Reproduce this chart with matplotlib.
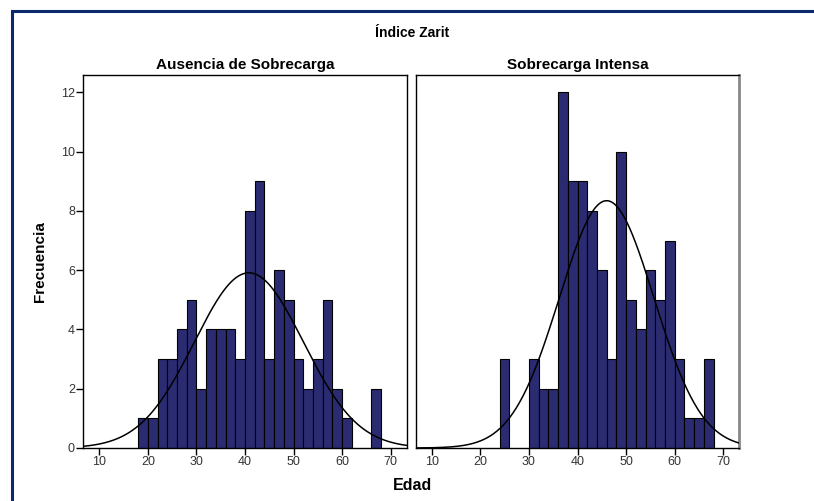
import numpy as np
import matplotlib
matplotlib.use("Agg")
import matplotlib.pyplot as plt
from matplotlib.patches import Rectangle

plt.rcParams['font.family'] = ['Liberation Sans Narrow', 'Liberation Sans', 'DejaVu Sans']

# Age histogram data (bin width 2 years)
bin_width = 2
left_start = 18
left_counts = [1, 1, 3, 3, 4, 5, 2, 4, 4, 4, 3, 8, 9, 3, 6, 5, 3, 2, 3, 5, 2, 1, 0, 0, 2]
right_start = 24
right_counts = [3, 0, 0, 3, 2, 2, 12, 9, 9, 8, 6, 3, 10, 5, 4, 6, 5, 7, 3, 1, 1, 3]

# normal curve parameters (mean, sd)
left_mean, left_sd = 40.8, 11.2
right_mean, right_sd = 46.0, 9.75

panel_titles = ["Ausencia de Sobrecarga", "Sobrecarga Intensa"]
x_ticks = [10, 20, 30, 40, 50, 60, 70]
y_ticks = [0, 2, 4, 6, 8, 10, 12]

bar_color = "#2B2B72"
tick_color = "#333333"

fig = plt.figure(figsize=(8.14, 5.01), dpi=100)

# dark blue frame around the figure
fig.patches.append(Rectangle((12 / 814, -0.1), 1.2, 1.1 - 11 / 501,
                             transform=fig.transFigure, fill=False,
                             edgecolor="#0B2A6E", linewidth=2.2))

ax1 = fig.add_axes([83.3 / 814, 1 - 448 / 501, 323.4 / 814, 373.3 / 501])
ax2 = fig.add_axes([415.7 / 814, 1 - 448 / 501, 323.6 / 814, 373.3 / 501])

panels = [
    (ax1, left_start, left_counts, left_mean, left_sd),
    (ax2, right_start, right_counts, right_mean, right_sd),
]

for i, (ax, start, counts, mu, sd) in enumerate(panels):
    counts = np.array(counts)
    edges = start + bin_width * np.arange(len(counts))
    mask = counts > 0
    ax.bar(edges[mask], counts[mask], width=bin_width, align='edge',
           color=bar_color, edgecolor="black", linewidth=0.8, zorder=2)

    ax.set_xlim(6.7, 73.3)
    ax.set_ylim(0, 12.6)
    xs = np.linspace(6.7, 73.3, 400)
    n = counts.sum()
    ys = n * bin_width * np.exp(-0.5 * ((xs - mu) / sd) ** 2) / (sd * np.sqrt(2 * np.pi))
    ax.plot(xs, ys, color="black", linewidth=1.1, zorder=3)

    ax.set_xticks(x_ticks)
    ax.tick_params(axis='x', direction='out', length=5, width=1, colors='black',
                   labelcolor=tick_color, labelsize=9, pad=1)
    ax.set_title(panel_titles[i], fontsize=11, fontweight='bold', pad=4)
    for sp in ax.spines.values():
        sp.set_linewidth(1)
        sp.set_color("black")

ax1.set_yticks(y_ticks)
ax1.tick_params(axis='y', direction='out', length=5, width=1,
                labelcolor=tick_color, labelsize=9, pad=1)
ax1.set_ylabel("Frecuencia", fontsize=11, fontweight='bold', labelpad=10)
ax2.set_yticks([])
ax2.spines['right'].set_color("#888888")
ax2.spines['right'].set_linewidth(2)

fig.text(412 / 814, 1 - 33 / 501, "Índice Zarit", ha='center', va='center',
         fontsize=10, fontweight='bold')
fig.text(412 / 814, 1 - 486 / 501, "Edad", ha='center', va='center',
         fontsize=11.5, fontweight='bold')

fig.savefig("out.png", dpi=100)
